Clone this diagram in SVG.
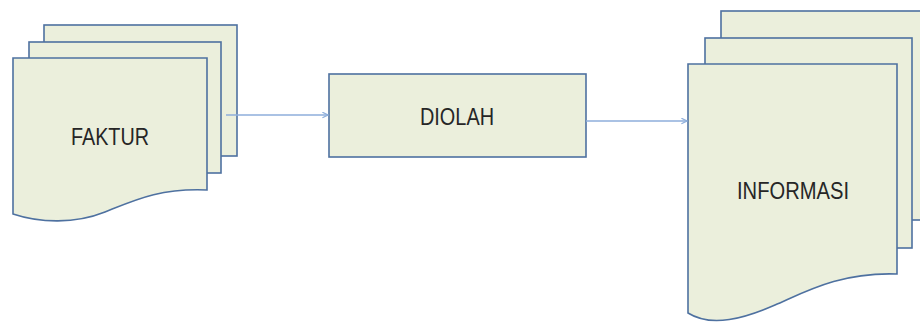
<svg xmlns="http://www.w3.org/2000/svg" width="920" height="325" viewBox="0 0 920 325">
<defs>
<style>
.pg{fill:#ebefdc;stroke:#4e71a0;stroke-width:1.6}
.lbl{font-family:"Liberation Sans",Arial,sans-serif;font-size:24px;fill:#262626}
.cn{stroke:#8eaedb;stroke-width:1.6;fill:none}
</style>
<marker id="ah" viewBox="0 0 10 10" refX="9" refY="5" markerWidth="7" markerHeight="7" markerUnits="userSpaceOnUse" orient="auto">
<path d="M1,1 L9,5 L1,9" fill="none" stroke="#8eaedb" stroke-width="1.8"/>
</marker>
</defs>
<rect width="920" height="325" fill="#ffffff"/>
<g id="faktur">
<rect class="pg" x="44" y="25" width="193" height="131"/>
<rect class="pg" x="29" y="42" width="192" height="131"/>
<path class="pg" d="M13,58 H207 V190 C160,188 135,200 105,212 C75,224 40,223 13,214 Z"/>
<text class="lbl" x="71" y="145" textLength="78" lengthAdjust="spacingAndGlyphs">FAKTUR</text>
</g>
<g id="diolah">
<rect class="pg" x="329" y="74" width="257" height="83"/>
<text class="lbl" x="420" y="124.5" textLength="74" lengthAdjust="spacingAndGlyphs">DIOLAH</text>
</g>
<g id="informasi">
<rect class="pg" x="721" y="11" width="210" height="209"/>
<rect class="pg" x="705" y="38" width="207" height="210"/>
<path class="pg" d="M688,64 H897 V274 C840,272 805,292 775,305 C745,318 712,328 688,313 Z"/>
<text class="lbl" x="737" y="199" textLength="112" lengthAdjust="spacingAndGlyphs">INFORMASI</text>
</g>
<g id="connectors">
<path class="cn" d="M226,115 H328" marker-end="url(#ah)"/>
<path class="cn" d="M586,121 H687" marker-end="url(#ah)"/>
</g>
</svg>
